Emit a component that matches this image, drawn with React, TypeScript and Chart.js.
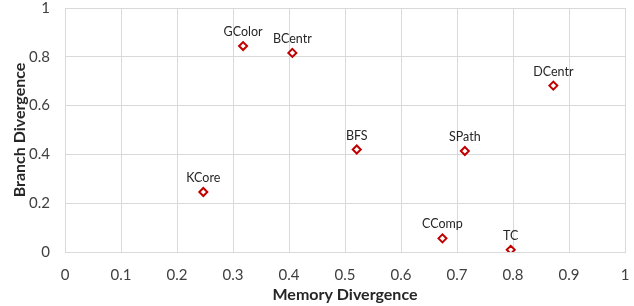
import React, { useEffect, useRef } from "react";
import { Chart, registerables } from "chart.js";

Chart.register(...registerables);

const names = ["GColor", "BCentr", "DCentr", "BFS", "SPath", "KCore", "CComp", "TC"];
const memoryDiv = [0.318, 0.406, 0.872, 0.521, 0.714, 0.247, 0.674, 0.796];
const branchDiv = [0.844, 0.816, 0.682, 0.42, 0.414, 0.246, 0.056, 0.009];

const FONT = "Lato, 'Open Sans', sans-serif";

const labelPlugin = {
  id: "pointLabels",
  afterDatasetsDraw(chart: any) {
    const ctx = chart.ctx;
    const meta = chart.getDatasetMeta(0);
    ctx.save();
    ctx.font = `12.5px ${FONT}`;
    ctx.fillStyle = "#262626";
    ctx.textAlign = "center";
    ctx.textBaseline = "middle";
    meta.data.forEach((el: any, i: number) => {
      ctx.fillText(names[i], el.x, el.y - 14);
    });
    ctx.restore();
  },
};

export default function App() {
  const ref = useRef<HTMLCanvasElement>(null);
  useEffect(() => {
    const chart = new Chart(ref.current!, {
      type: "scatter",
      data: {
        datasets: [
          {
            data: memoryDiv.map((x, i) => ({ x, y: branchDiv[i] })),
            pointStyle: "rectRot",
            pointRadius: 4,
            pointBorderWidth: 2,
            borderColor: "#C00000",
            backgroundColor: "#ffffff",
            pointBackgroundColor: "#ffffff",
            pointBorderColor: "#C00000",
          },
        ],
      },
      options: {
        responsive: false,
        animation: false,
        layout: { padding: 0 },
        plugins: { legend: { display: false }, tooltip: { enabled: false } },
        scales: {
          x: {
            type: "linear",
            min: 0,
            max: 1,
            ticks: {
              stepSize: 0.1,
              color: "#404040",
              font: { family: FONT, size: 15 },
              padding: 14,
              maxRotation: 0,
              callback: (v: any) => String(Number(Number(v).toFixed(1))),
            },
            grid: { color: "#d9d9d9", lineWidth: 1, drawTicks: false },
            border: { color: "#d9d9d9" },
            title: {
              display: true,
              text: "Memory Divergence",
              color: "#262626",
              font: { family: FONT, size: 16, weight: "bold" },
              padding: { top: 4, bottom: 2 },
            },
            afterFit: (s: any) => {
              s.height = 54;
              s.paddingLeft = 0;
              s.paddingRight = 9;
            },
          },
          y: {
            type: "linear",
            min: 0,
            max: 1,
            ticks: {
              stepSize: 0.2,
              color: "#404040",
              font: { family: FONT, size: 15 },
              padding: 15,
              callback: (v: any) => String(Number(Number(v).toFixed(1))),
            },
            grid: { color: "#d9d9d9", lineWidth: 1, drawTicks: false },
            border: { color: "#d9d9d9" },
            title: {
              display: true,
              text: "Branch Divergence",
              color: "#262626",
              font: { family: FONT, size: 16, weight: "bold" },
              padding: { top: 10, bottom: 4 },
            },
            afterFit: (s: any) => {
              s.width = 65;
              s.paddingTop = 8;
              s.paddingBottom = 0;
            },
          },
        },
      },
      plugins: [labelPlugin],
    } as any);
    return () => chart.destroy();
  }, []);
  return (
    <div style={{ position: "absolute", left: 0, top: 0, width: 634, height: 306, background: "#fff" }}>
      <canvas ref={ref} width={634} height={306} />
    </div>
  );
}
